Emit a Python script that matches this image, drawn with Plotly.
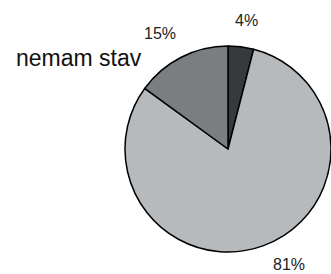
import plotly.graph_objects as go

labels = ["a", "b", "nemam stav"]
values = [4, 81, 15]
colors = ["#353a3b", "#b6babd", "#7b7e81"]
pct_pos = [(246, 21), (289, 264), (160, 33)]
W, H = 331, 274

fig = go.Figure(go.Pie(
    labels=labels, values=values, sort=False, direction="clockwise", rotation=0,
    marker=dict(colors=colors, line=dict(color="#000000", width=1.5)),
    textinfo="none", hoverinfo="skip", showlegend=False,
    domain=dict(x=[125 / W, 1], y=[(125 - 105) / H, (125 + 105) / H]),
))

total = sum(values)
ann = []
for v, (px, py) in zip(values, pct_pos):
    ann.append(dict(x=px / W, y=1 - py / H, xref="paper", yref="paper",
                    text=f"{round(100 * v / total)}%", showarrow=False,
                    font=dict(family="Liberation Sans, Arial", size=16, color="#222222"),
                    xanchor="center", yanchor="middle"))
ann.append(dict(x=79 / W, y=1 - 58 / H, xref="paper", yref="paper",
                text=labels[2], showarrow=False,
                font=dict(family="Liberation Sans, Arial", size=23, color="#111111"),
                xanchor="center", yanchor="middle"))

fig.update_layout(width=W, height=H, margin=dict(l=0, r=0, t=0, b=0),
                  paper_bgcolor="white", plot_bgcolor="white", annotations=ann)
fig.write_html("out.html", config={"displayModeBar": False},
               post_script="document.body.style.margin='0';document.body.style.overflow='hidden';")
